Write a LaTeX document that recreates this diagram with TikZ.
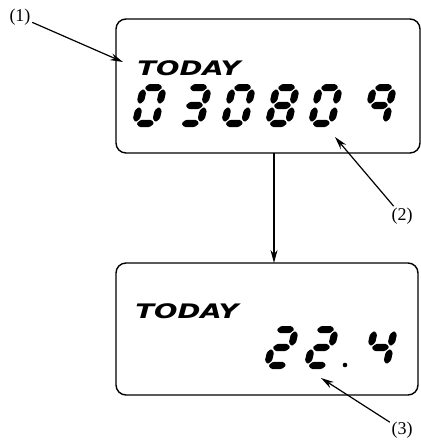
\documentclass[tikz,border=0pt]{standalone}
\usepackage{fontspec}
\usepackage{graphicx}
\setmainfont{Liberation Serif}
\newfontfamily\lcdfont{DejaVu Sans}
\usetikzlibrary{arrows.meta}

% seven-segment geometry (unslanted 27 x 43, half thickness 3.6)
\newcommand\segH[1]{(4.6,#1) -- ++(3.6,3.6) -- ++(10.6,0) -- ++(3.6,-3.6) -- ++(-3.6,-3.6) -- ++(-10.6,0) -- cycle}
\newcommand\segV[2]{(#1,#2) -- ++(3.6,3.6) -- ++(0,8.2) -- ++(-3.6,3.6) -- ++(-3.6,-3.6) -- ++(0,-8.2) -- cycle}
\def\SEGa{\segH{39.4}}
\def\SEGg{\segH{21.5}}
\def\SEGd{\segH{3.6}}
\def\SEGf{\segV{3.6}{22.8}}
\def\SEGe{\segV{3.6}{4.8}}
\def\SEGb{\segV{23.4}{22.8}}
\def\SEGc{\segV{23.4}{4.8}}

\newcommand\lcddigit[3]{%
  \begin{scope}[shift={(#1,#2)}, yscale=-1, xslant=-0.23]
    \foreach \s in {#3}{\fill[seg] \csname SEG\s\endcsname;}
  \end{scope}}

\tikzset{
  lcdbox/.style={draw, line width=1.4pt, rounded corners=10pt, inner sep=0pt},
  callout/.style={line width=1.2pt, -{Stealth[length=13pt,width=7pt]}},
  seg/.style={fill=black, rounded corners=1.2pt},
  tag/.style={font=\fontsize{18}{20}\selectfont, inner sep=1.5pt},
  lcdlabel/.style={font=\lcdfont\bfseries\itshape\fontsize{20}{22}\selectfont, inner sep=0pt, anchor=base west, xscale=1.38}
}

\begin{document}
\begin{tikzpicture}[x=1pt, y=-1pt]
\useasboundingbox (0,0) rectangle (421,440);

% boxes
\node[lcdbox, minimum width=304pt, minimum height=134pt] (top) at (268,86) {};
\node[lcdbox, minimum width=302pt, minimum height=132pt] (bot) at (267,329) {};

% texts
\node[lcdlabel] (today1) at (137,75) {TODAY};
\node[lcdlabel] (today2) at (135,318) {TODAY};

% top digits 030809
\lcddigit{131}{127}{a,b,c,d,e,f}
\lcddigit{176}{127}{a,b,c,d,g}
\lcddigit{220}{127}{a,b,c,d,e,f}
\lcddigit{264}{127}{a,b,c,d,e,f,g}
\lcddigit{307}{127}{a,b,c,d,e,f}
\lcddigit{361}{127}{a,b,c,f,g}

% bottom digits 22.4
\lcddigit{263}{369}{a,b,d,e,g}
\lcddigit{303}{369}{a,b,d,e,g}
\fill (345,365) circle (2.3pt);
\lcddigit{362}{369}{b,c,f,g}

% labels
\node[tag] (l1) at (20,17) {(1)};
\node[tag] (l2) at (402,216) {(2)};
\node[tag] (l3) at (402,430) {(3)};

\coordinate (t1) at (123,62);
\coordinate (t2) at (335,137);
\coordinate (t3) at (321,378);
\coordinate (v1) at (274,153);
\coordinate (v2) at (274,263);

\draw[callout] (l1) -- (t1);
\draw[callout] (l2) -- (t2);
\draw[callout] (l3) -- (t3);
\draw[callout] (v1) -- (v2);
\end{tikzpicture}
\end{document}
